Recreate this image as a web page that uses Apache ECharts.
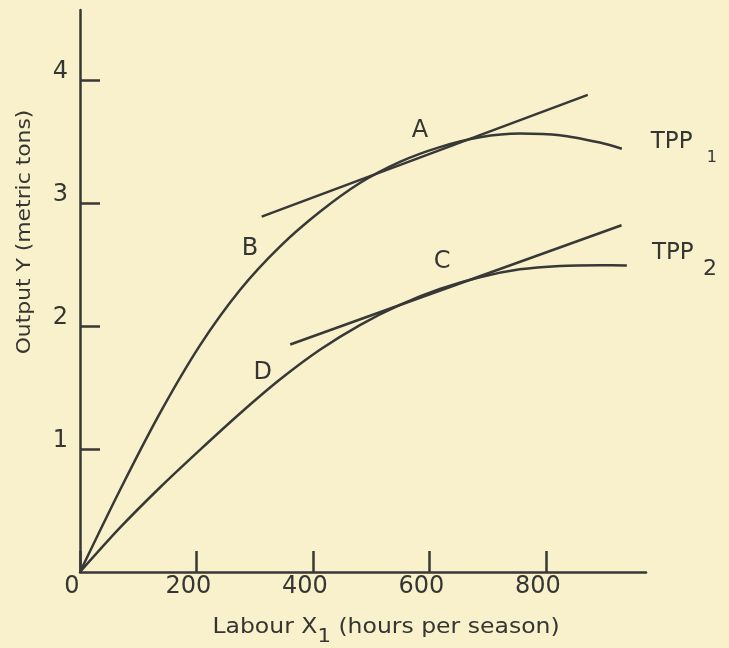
<!DOCTYPE html>
<html>
<head>
<meta charset="utf-8">
<script src="https://cdn.jsdelivr.net/npm/echarts@6/dist/echarts.min.js"></script>
<style>
html,body{margin:0;padding:0;background:#f8f1cb;}
#c{width:729px;height:648px;}
</style>
</head>
<body>
<div id="c"></div>
<script>
// TPP1 (upper total physical product curve)
var tpp1X = [0, 68.7, 137.3, 206.0, 274.7, 343.3, 412.0, 480.7, 549.4, 618.0, 686.7, 755.4, 824.0, 892.7, 930.5];
var tpp1Y = [0, 0.667, 1.292, 1.843, 2.293, 2.646, 2.929, 3.163, 3.335, 3.455, 3.535, 3.565, 3.552, 3.492, 3.442];
// TPP2 (lower total physical product curve)
var tpp2X = [0, 68.7, 137.3, 206.0, 274.7, 343.3, 412.0, 480.7, 549.4, 618.0, 686.7, 755.4, 824.0, 892.7, 939.1];
var tpp2Y = [0, 0.360, 0.687, 0.993, 1.289, 1.565, 1.807, 2.008, 2.172, 2.301, 2.397, 2.461, 2.489, 2.495, 2.493];
// Tangent lines at A and C
var tangentAX = [312, 872];
var tangentAY = [2.89, 3.88];
var tangentCX = [361, 930];
var tangentCY = [1.85, 2.82];
// Annotation labels
var noteText = ['A', 'B', 'C', 'D', 'TPP', '1', 'TPP', '2'];
var noteX = [584, 292, 622, 314, 1016, 1085, 1018, 1082];
var noteY = [3.59, 2.63, 2.52, 1.62, 3.50, 3.37, 2.59, 2.46];
var noteSize = [24, 24, 24, 24, 23, 16, 23, 22];
// Axis ticks
var xTicks = [0, 200, 400, 600, 800];
var yTicks = [1, 2, 3, 4];
var xTitle = 'Labour X';
var xTitleSub = '1';
var xTitleRest = ' (hours per season)';
var yTitle = 'Output Y (metric tons)';

function zip(xs, ys) { return xs.map(function (x, i) { return [x, ys[i]]; }); }

var ink = '#383836';
var txt = '#353533';
var font = 'DejaVu Sans';
var chart = echarts.init(document.getElementById('c'), null, {renderer: 'canvas'});

var lineStyle = {color: ink, width: 2.5};
chart.setOption({
  backgroundColor: '#f8f1cb',
  animation: false,
  grid: {left: 80, right: 83, top: 10, bottom: 76, containLabel: false},
  xAxis: {
    type: 'value', min: 0, max: 972, interval: 200,
    axisLine: {show: true, lineStyle: {color: ink, width: 2.5}},
    axisTick: {show: true, inside: true, length: 21, lineStyle: {color: ink, width: 2.5}},
    splitLine: {show: false},
    axisLabel: {
      color: txt, fontFamily: font, fontSize: 24, margin: 3,
      padding: [0, 16, 0, 0],
      showMaxLabel: false,
      formatter: function (v) { return xTicks.indexOf(v) >= 0 ? String(v) : ''; }
    }
  },
  yAxis: {
    type: 'value', min: 0, max: 4.57, interval: 1,
    axisLine: {show: true, lineStyle: {color: ink, width: 2.5}},
    axisTick: {show: true, inside: true, length: 20, lineStyle: {color: ink, width: 2.5}},
    splitLine: {show: false},
    axisLabel: {
      color: txt, fontFamily: font, fontSize: 24, margin: 12,
      verticalAlign: 'bottom', lineHeight: 16,
      showMinLabel: false, showMaxLabel: false,
      formatter: function (v) { return (yTicks.indexOf(v) >= 0) ? String(v) : ''; }
    }
  },
  graphic: [
    {
      type: 'text', x: 386, y: 628,
      scaleX: 1.12,
      style: {
        text: xTitle + '{s|' + xTitleSub + '}' + xTitleRest,
        fill: txt, fontFamily: font, fontSize: 21,
        align: 'center', verticalAlign: 'middle',
        rich: {s: {fontSize: 19, fontFamily: font, fill: txt, padding: [18, 0, 0, 0]}}
      }
    },
    {
      type: 'text', x: 25, y: 232, rotation: Math.PI / 2,
      scaleX: 1.15,
      style: {
        text: yTitle, fill: txt, fontFamily: font, fontSize: 19,
        align: 'center', verticalAlign: 'middle'
      }
    }
  ],
  series: [
    {type: 'line', data: zip(tpp1X, tpp1Y), smooth: 0.3, symbol: 'none', lineStyle: lineStyle, clip: false},
    {type: 'line', data: zip(tpp2X, tpp2Y), smooth: 0.3, symbol: 'none', lineStyle: lineStyle, clip: false},
    {type: 'line', data: zip(tangentAX, tangentAY), symbol: 'none', lineStyle: lineStyle, clip: false},
    {type: 'line', data: zip(tangentCX, tangentCY), symbol: 'none', lineStyle: lineStyle, clip: false},
    {
      type: 'scatter', symbolSize: 0, clip: false, silent: true,
      itemStyle: {opacity: 1},
      data: noteX.map(function (x, i) {
        return {value: [x, noteY[i]], name: noteText[i], label: {fontSize: noteSize[i]}};
      }),
      label: {
        show: true, position: 'inside', color: txt, opacity: 1, fontFamily: font,
        formatter: function (p) { return p.name; }
      }
    }
  ]
});
</script>
</body>
</html>
